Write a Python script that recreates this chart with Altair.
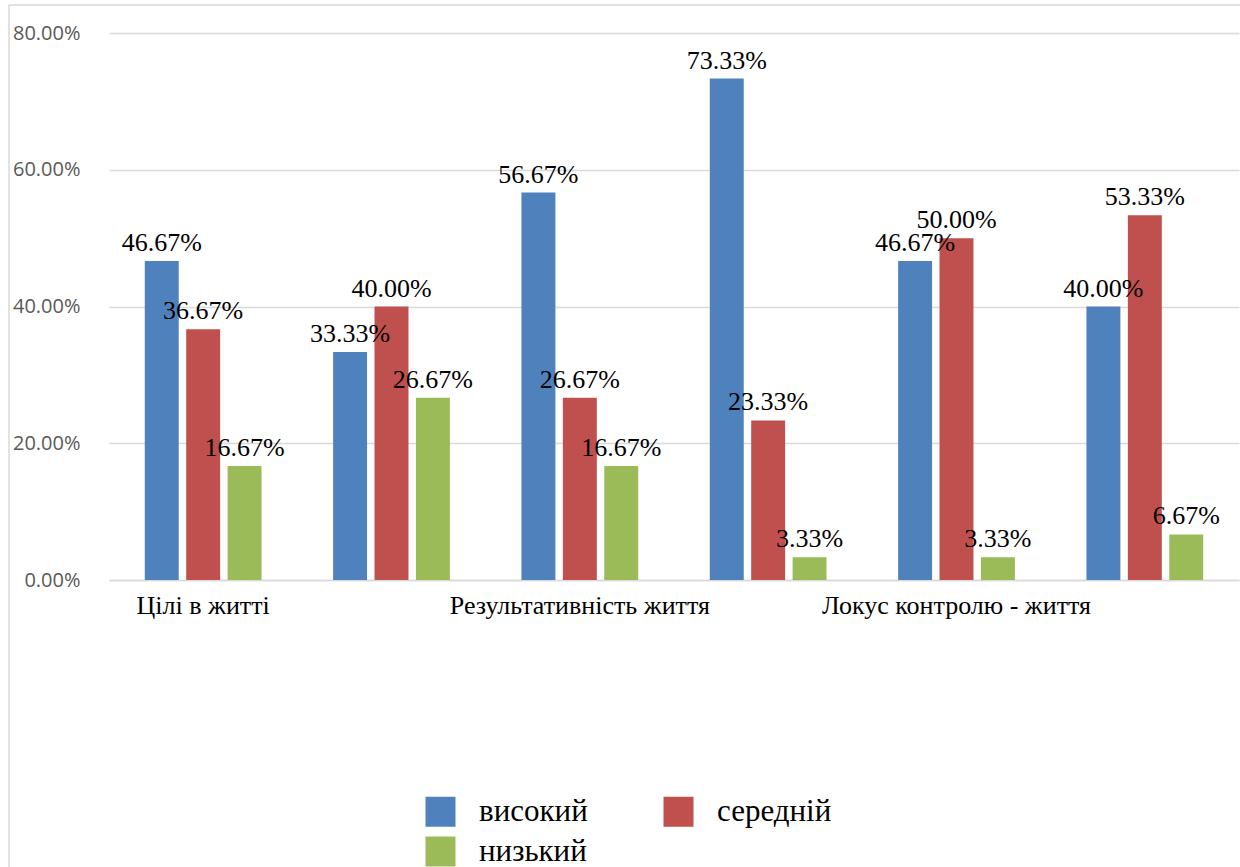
import altair as alt
import pandas as pd

categories = ["Цілі в житті", "Процес життя", "Результативність життя",
              "Локус контролю - Я", "Локус контролю - життя", "Загальний показник ОЖ"]
shown_labels = ["Цілі в житті", "Результативність життя", "Локус контролю - життя"]
levels = ["високий", "середній", "низький"]
colors = ["#4F81BD", "#C0504D", "#9BBB59"]
vysokyi = [0.4667, 0.3333, 0.5667, 0.7333, 0.4667, 0.4000]
serednii = [0.3667, 0.4000, 0.2667, 0.2333, 0.5000, 0.5333]
nyzkyi = [0.1667, 0.2667, 0.1667, 0.0333, 0.0333, 0.0667]
y_ticks = [0, 0.2, 0.4, 0.6, 0.8]

rows = []
for lvl, vals in zip(levels, [vysokyi, serednii, nyzkyi]):
    for c, v in zip(categories, vals):
        rows.append({"cat": c, "level": lvl, "value": v})
df = pd.DataFrame(rows)

serif = "Liberation Serif"

x = alt.X("cat:N", sort=categories, title=None,
          scale=alt.Scale(paddingInner=0.38, paddingOuter=0.19),
          axis=alt.Axis(values=shown_labels, labelAngle=0, labelFont=serif,
                        labelFontSize=26, labelColor="#000000", labelPadding=12,
                        ticks=False, domainColor="#d9d9d9", domainWidth=1.5,
                        labelOverlap=False, labelLimit=400))
y = alt.Y("value:Q", title=None,
          scale=alt.Scale(domain=[0, 0.8], nice=False),
          axis=alt.Axis(values=y_ticks, format=".2%", labelFont="Open Sans",
                        labelFontSize=20, labelColor="#595959", labelPadding=29,
                        ticks=False, domain=False, gridColor="#d9d9d9", gridWidth=1.5))
xoff = alt.XOffset("level:N", sort=levels,
                   scale=alt.Scale(paddingInner=0.18, paddingOuter=0))
color = alt.Color("level:N", sort=levels, title=None,
                  scale=alt.Scale(domain=levels, range=colors),
                  legend=alt.Legend(orient="none", legendX=316, legendY=763,
                                    direction="horizontal", columns=2,
                                    symbolType="square", symbolSize=900,
                                    symbolStrokeWidth=0, symbolOpacity=1,
                                    labelFont=serif, labelFontSize=31,
                                    labelColor="#000000", labelOffset=23,
                                    columnPadding=75, rowPadding=8, padding=0,
                                    labelLimit=300))

base = alt.Chart(df)
bars = base.mark_bar().encode(x=x, y=y, xOffset=xoff, color=color)
labels = base.mark_text(font=serif, fontSize=26, color="#000000",
                        baseline="alphabetic", dy=-10).encode(
    x=x, y=y, xOffset=xoff, text=alt.Text("value:Q", format=".2%"))

frame = alt.Chart(alt.Data(values=[{"a": 1}])).mark_rule(color="#d9d9d9", strokeWidth=1.5).encode(
    x=alt.value(-100), x2=alt.value(1131), y=alt.value(-28))
frame2 = alt.Chart(alt.Data(values=[{"a": 1}])).mark_rule(color="#d9d9d9", strokeWidth=1.5).encode(
    x=alt.value(-100), y=alt.value(-28), y2=alt.value(834))

chart = alt.layer(frame, frame2, bars, labels).properties(
    width=1130, height=547,
    autosize=alt.AutoSizeParams(type="none"),
    padding={"left": 109, "top": 33, "right": 1, "bottom": 287},
    background="#ffffff",
).configure_view(stroke=None)

chart.save("out.html", embed_options={"renderer": "svg", "actions": False})
